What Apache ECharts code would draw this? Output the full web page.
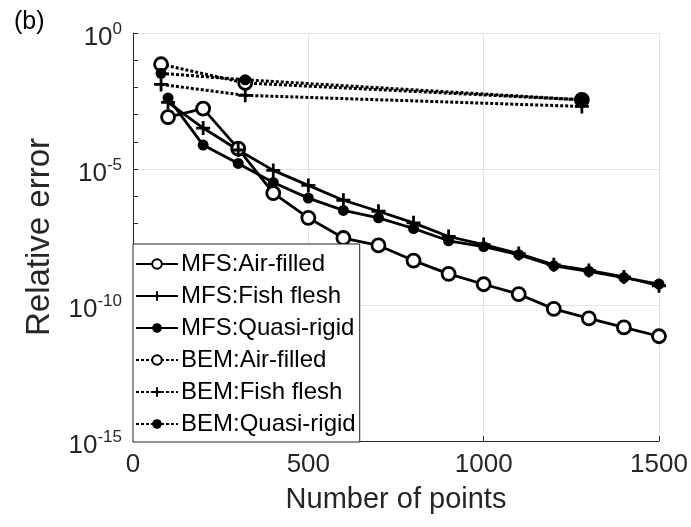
<!DOCTYPE html>
<html>
<head>
<meta charset="utf-8">
<script src="https://cdn.jsdelivr.net/npm/echarts@6/dist/echarts.min.js"></script>
<style>
  html, body { margin: 0; padding: 0; background: #fff; }
  #chart { width: 691px; height: 527px; }
</style>
</head>
<body>
<div id="chart"></div>
<script>
// Number of collocation points for each method
const mfsPoints = [100, 200, 300, 400, 500, 600, 700, 800, 900, 1000, 1100, 1200, 1300, 1400, 1500];
const bemPoints = [80, 320, 1280];

// Relative error, MFS
const mfsAirFilled = [8.1e-4, 1.66e-3, 5.6e-5, 1.3e-6, 1.6e-7, 2.9e-8, 1.55e-8, 4.3e-9, 1.4e-9, 5.8e-10, 2.5e-10, 7.2e-11, 3.2e-11, 1.5e-11, 7.1e-12];
const mfsFishFlesh = [2.8e-3, 3.2e-4, 5.0e-5, 8.9e-6, 2.5e-6, 7.1e-7, 2.8e-7, 1.05e-7, 3.3e-8, 1.66e-8, 7.8e-9, 3.0e-9, 1.86e-9, 1.07e-9, 5.1e-10];
const mfsQuasiRigid = [4.1e-3, 7.6e-5, 1.6e-5, 3.2e-6, 8.5e-7, 3.0e-7, 1.6e-7, 6.5e-8, 2.3e-8, 1.4e-8, 7.1e-9, 2.75e-9, 1.74e-9, 1.02e-9, 5.9e-10];

// Relative error, BEM
const bemAirFilled = [0.071, 0.0145, 3.5e-3];
const bemFishFlesh = [0.0129, 5.1e-3, 2.0e-3];
const bemQuasiRigid = [0.033, 0.019, 3.5e-3];

const seriesNames = ['MFS:Air-filled', 'MFS:Fish flesh', 'MFS:Quasi-rigid',
                     'BEM:Air-filled', 'BEM:Fish flesh', 'BEM:Quasi-rigid'];

const xTicks = [0, 500, 1000, 1500];

const FONT = '"Liberation Sans", Arial, sans-serif';
const INK = '#262626';
const GRID = '#e3e3e3';

const plusPath = 'path://M4,0h2v4h4v2h-4v4h-2v-4h-4v-2h4z';

function pairs(xs, ys) { return xs.map((x, i) => [x, ys[i]]); }

function marker(kind) {
  if (kind === 'open') return { symbol: 'circle', symbolSize: 13, itemStyle: { color: '#fff', borderColor: '#000', borderWidth: 2.8 } };
  if (kind === 'plus') return { symbol: plusPath, symbolSize: 14, itemStyle: { color: '#000', borderWidth: 0 } };
  return { symbol: 'circle', symbolSize: 11, itemStyle: { color: '#000', borderWidth: 0 } };
}

function makeSeries(name, xs, ys, kind, dotted) {
  const m = marker(kind);
  return {
    name: name,
    type: 'line',
    data: pairs(xs, ys),
    symbol: m.symbol,
    symbolSize: m.symbolSize,
    showAllSymbol: true,
    itemStyle: m.itemStyle,
    lineStyle: { color: '#000', width: dotted ? 3 : 2.8, type: dotted ? [3, 2] : 'solid' },
    emphasis: { disabled: true },
    animation: false
  };
}

const series = [
  makeSeries(seriesNames[0], mfsPoints, mfsAirFilled, 'open', false),
  makeSeries(seriesNames[1], mfsPoints, mfsFishFlesh, 'plus', false),
  makeSeries(seriesNames[2], mfsPoints, mfsQuasiRigid, 'filled', false),
  makeSeries(seriesNames[3], bemPoints, bemAirFilled, 'open', true),
  makeSeries(seriesNames[4], bemPoints, bemFishFlesh, 'plus', true),
  makeSeries(seriesNames[5], bemPoints, bemQuasiRigid, 'filled', true)
];

const chart = echarts.init(document.getElementById('chart'), null, { renderer: 'canvas' });

chart.setOption({
  backgroundColor: '#fff',
  animation: false,
  textStyle: { fontFamily: FONT },
  title: {
    text: '(b)',
    left: 9, top: 5,
    textStyle: { fontFamily: FONT, fontSize: 25, fontWeight: 'normal', color: '#000' }
  },
  grid: { left: 133, right: 32, top: 33, bottom: 86, containLabel: false },
  legend: {
    orient: 'vertical',
    left: 133, top: 244,
    data: seriesNames,
    itemWidth: 42, itemHeight: 12, itemGap: 8,
    padding: [8, 4, 6, 2],
    borderColor: INK, borderWidth: 1,
    backgroundColor: '#fff',
    selectedMode: false,
    textStyle: { fontFamily: FONT, fontSize: 24, color: '#000', lineHeight: 24, padding: [0, 0, 0, -2] }
  },
  xAxis: {
    type: 'value',
    min: xTicks[0], max: xTicks[xTicks.length - 1], interval: 500,
    name: 'Number of points',
    nameLocation: 'middle', nameGap: 44,
    nameTextStyle: { fontFamily: FONT, fontSize: 29, color: INK },
    axisLine: { show: true, onZero: false, lineStyle: { color: INK, width: 1 } },
    axisTick: { show: true, inside: true, length: 5, lineStyle: { color: INK } },
    axisLabel: { fontFamily: FONT, fontSize: 26, color: INK, margin: 11, formatter: v => String(v) },
    splitLine: { show: true, lineStyle: { color: GRID, width: 1 } }
  },
  yAxis: [
    {
      type: 'log', logBase: 10,
      min: 1e-15, max: 1, interval: 5,
      name: 'Relative error',
      nameLocation: 'middle', nameGap: 77, nameRotate: 90,
      nameTextStyle: { fontFamily: FONT, fontSize: 33, color: INK },
      axisLine: { show: true, lineStyle: { color: INK, width: 1 } },
      axisTick: { show: true, inside: true, length: 5, lineStyle: { color: INK } },
      axisLabel: {
        margin: 11,
        color: INK,
        formatter: function (v) {
          const e = Math.round(Math.log10(v));
          return '{b|10}{s|' + e + '}';
        },
        rich: {
          b: { fontFamily: FONT, fontSize: 26, lineHeight: 26, color: INK, padding: [10, 0, 0, 0] },
          s: { fontFamily: FONT, fontSize: 17, lineHeight: 17, color: INK, padding: [0, 0, 7, 0] }
        }
      },
      splitLine: { show: true, lineStyle: { color: GRID, width: 1 } }
    },
    {
      // decade ticks without labels
      type: 'log', logBase: 10,
      min: 1e-15, max: 1, interval: 1,
      position: 'left',
      axisLine: { show: false },
      axisTick: { show: true, inside: true, length: 5, lineStyle: { color: INK } },
      axisLabel: { show: false },
      splitLine: { show: false }
    }
  ],
  series: series
});
</script>
</body>
</html>
